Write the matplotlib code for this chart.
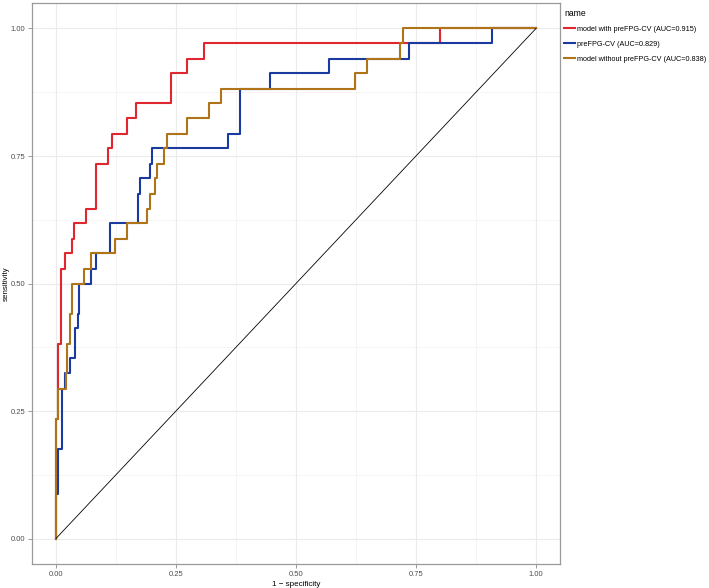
import matplotlib
matplotlib.use("Agg")
import matplotlib.pyplot as plt

plt.rcParams['font.family'] = ['Liberation Sans', 'DejaVu Sans']

# ROC corner points (1 - specificity, sensitivity)
red_fpr = [0, 0, 0.004, 0.010, 0.019, 0.034, 0.038, 0.063, 0.083, 0.108, 0.117,
           0.147, 0.167, 0.240, 0.274, 0.309, 0.800, 1.0]
red_tpr = [0, 0.235, 0.382, 0.529, 0.559, 0.588, 0.618, 0.647, 0.735, 0.765, 0.794,
           0.824, 0.853, 0.912, 0.941, 0.971, 1.0, 1.0]

blue_fpr = [0, 0, 0.004, 0.013, 0.019, 0.029, 0.040, 0.045, 0.049, 0.073, 0.083,
            0.113, 0.171, 0.175, 0.196, 0.200, 0.358, 0.383, 0.446, 0.569, 0.736,
            0.908, 1.0]
blue_tpr = [0, 0.088, 0.176, 0.294, 0.324, 0.353, 0.412, 0.441, 0.5, 0.529, 0.559,
            0.618, 0.676, 0.706, 0.735, 0.765, 0.794, 0.882, 0.912, 0.941, 0.971,
            1.0, 1.0]

gold_fpr = [0, 0, 0.005, 0.020, 0.024, 0.029, 0.034, 0.059, 0.074, 0.123, 0.147,
            0.190, 0.196, 0.206, 0.211, 0.225, 0.231, 0.274, 0.319, 0.344, 0.624,
            0.647, 0.717, 0.722, 1.0]
gold_tpr = [0, 0.235, 0.294, 0.324, 0.382, 0.441, 0.5, 0.529, 0.559, 0.588, 0.618,
            0.647, 0.676, 0.706, 0.735, 0.765, 0.794, 0.824, 0.853, 0.882, 0.912,
            0.941, 0.971, 1.0, 1.0]

names = ['model with preFPG-CV (AUC=0.915)',
         'preFPG-CV (AUC=0.829)',
         'model without preFPG-CV (AUC=0.838)']
colors = ['#e0262e', '#1b3a9f', '#b07418']
ticks = [0.0, 0.25, 0.5, 0.75, 1.0]
tick_labels = ['0.00', '0.25', '0.50', '0.75', '1.00']

fig = plt.figure(figsize=(7.09, 5.88), dpi=100)
ax = fig.add_axes([0.0451, 0.0408, 0.7447, 0.9541])

for gx in [0.125, 0.375, 0.625, 0.875]:
    ax.axvline(gx, color='#f2f2f2', lw=0.5, zorder=0)
    ax.axhline(gx, color='#f2f2f2', lw=0.5, zorder=0)
for gx in ticks:
    ax.axvline(gx, color='#ebebeb', lw=0.8, zorder=0)
    ax.axhline(gx, color='#ebebeb', lw=0.8, zorder=0)

curves = [(red_fpr, red_tpr), (blue_fpr, blue_tpr), (gold_fpr, gold_tpr)]
for (fx, fy), name, c in zip(curves, names, colors):
    ax.step(fx, fy, where='post', color=c, lw=1.5, label=name, zorder=2)

ax.plot([0, 1], [0, 1], color='black', lw=0.6, zorder=3)

ax.set_xlim(-0.05, 1.05)
ax.set_ylim(-0.05, 1.05)
ax.set_xticks(ticks)
ax.set_xticklabels(tick_labels)
ax.set_yticks(ticks)
ax.set_yticklabels(tick_labels)
ax.tick_params(labelsize=5.5, colors='#8c8c8c', labelcolor='#4d4d4d', length=3, width=0.6, pad=2)
for s in ax.spines.values():
    s.set_color('#9a9a9a')
    s.set_linewidth(0.9)

ax.set_xlabel('1 \u2212 specificity', fontsize=5.8, labelpad=2)
ax.set_ylabel('sensitivity', fontsize=5.8)
ax.yaxis.set_label_coords(-0.042, 0.5)

leg = ax.legend(loc='upper left', bbox_to_anchor=(0.792, 0.99), bbox_transform=fig.transFigure,
                title='name', fontsize=5.2, title_fontsize=6.2, frameon=False,
                handlelength=1.4, handletextpad=0.4, labelspacing=1.1, borderaxespad=0)
leg._legend_box.align = 'left'

fig.savefig('out.png', dpi=100)
